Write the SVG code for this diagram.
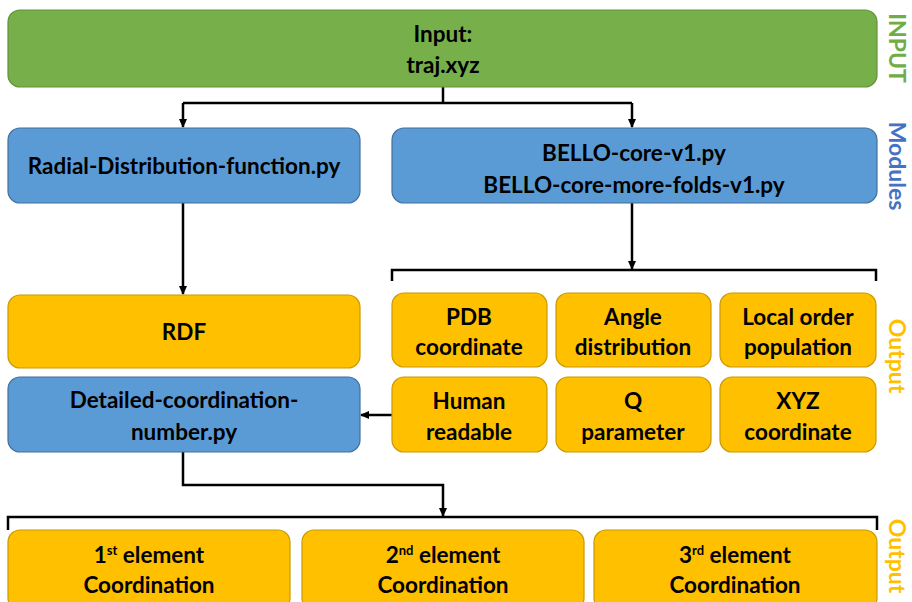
<svg xmlns="http://www.w3.org/2000/svg" width="912" height="602" viewBox="0 0 912 602">
<defs>
<style>
.g{fill:#77b04b;stroke:#5f9338;stroke-width:1.2}
.b{fill:#5b9bd5;stroke:#41719c;stroke-width:1.2}
.o{fill:#ffc000;stroke:#c99a00;stroke-width:1.2}
.t{font-family:Lato,"Liberation Sans",sans-serif;font-weight:bold;font-size:22.5px;fill:#000;text-anchor:middle}
.s{font-family:Lato,"Liberation Sans",sans-serif;font-weight:bold;font-size:23px;text-anchor:middle}
.c{fill:none;stroke:#000;stroke-width:2.5}
</style>
<marker id="a" markerWidth="10" markerHeight="10" refX="8" refY="5" orient="auto" markerUnits="userSpaceOnUse">
<path d="M0,1 L9,5 L0,9 Z" fill="#000"/>
</marker>
</defs>
<rect width="912" height="602" fill="#fff"/>
<g id="connectors">
<path class="c" d="M443,87 V103 M183,103 H632"/>
<path class="c" d="M183,103 V127" marker-end="url(#a)"/>
<path class="c" d="M632,103 V127" marker-end="url(#a)"/>
<path class="c" d="M183,203 V294" marker-end="url(#a)"/>
<path class="c" d="M632,203 V269" marker-end="url(#a)"/>
<path class="c" d="M392,281 V270 H876 V281"/>
<path class="c" d="M392,415 H361" marker-end="url(#a)"/>
<path class="c" d="M183,452 V485 H443 V516" marker-end="url(#a)"/>
<path class="c" d="M8,530 V517 H877 V530"/>
</g>
<g id="input"><rect class="g" x="8" y="10" width="869" height="77" rx="12"/>
<text class="t" x="443" y="42">Input:</text><text class="t" x="443" y="73">traj.xyz</text></g>
<g id="rdfpy"><rect class="b" x="8" y="128" width="352" height="75" rx="12"/>
<text class="t" x="184" y="174">Radial-Distribution-function.py</text></g>
<g id="bello"><rect class="b" x="392" y="128" width="485" height="75" rx="12"/>
<text class="t" x="634" y="161">BELLO-core-v1.py</text><text class="t" x="634" y="193">BELLO-core-more-folds-v1.py</text></g>
<g id="rdf"><rect class="o" x="8" y="295" width="352" height="73" rx="12"/>
<text class="t" x="184" y="340">RDF</text></g>
<g id="detailed"><rect class="b" x="8" y="377" width="352" height="75" rx="12"/>
<text class="t" x="184" y="408">Detailed-coordination-</text><text class="t" x="184" y="440">number.py</text></g>
<g id="pdb"><rect class="o" x="392" y="293" width="155" height="74" rx="12"/>
<text class="t" x="469" y="325">PDB</text><text class="t" x="469" y="355">coordinate</text></g>
<g id="angle"><rect class="o" x="556" y="293" width="155" height="74" rx="12"/>
<text class="t" x="633" y="325">Angle</text><text class="t" x="633" y="355">distribution</text></g>
<g id="local"><rect class="o" x="720" y="293" width="156" height="74" rx="12"/>
<text class="t" x="798" y="325">Local order</text><text class="t" x="798" y="355">population</text></g>
<g id="human"><rect class="o" x="392" y="377" width="155" height="75" rx="12"/>
<text class="t" x="469" y="409">Human</text><text class="t" x="469" y="440">readable</text></g>
<g id="q"><rect class="o" x="556" y="377" width="155" height="75" rx="12"/>
<text class="t" x="633" y="409">Q</text><text class="t" x="633" y="440">parameter</text></g>
<g id="xyz"><rect class="o" x="720" y="377" width="156" height="75" rx="12"/>
<text class="t" x="798" y="409">XYZ</text><text class="t" x="798" y="440">coordinate</text></g>
<g id="el1"><rect class="o" x="8" y="530" width="282" height="80" rx="12"/>
<text class="t" x="149" y="563">1<tspan font-size="13" dy="-8">st</tspan><tspan dy="8"> element</tspan></text><text class="t" x="149" y="593">Coordination</text></g>
<g id="el2"><rect class="o" x="302" y="530" width="282" height="80" rx="12"/>
<text class="t" x="443" y="563">2<tspan font-size="13" dy="-8">nd</tspan><tspan dy="8"> element</tspan></text><text class="t" x="443" y="593">Coordination</text></g>
<g id="el3"><rect class="o" x="594" y="530" width="283" height="80" rx="12"/>
<text class="t" x="735" y="563">3<tspan font-size="13" dy="-8">rd</tspan><tspan dy="8"> element</tspan></text><text class="t" x="735" y="593">Coordination</text></g>
<g id="labels">
<text class="s" fill="#70ad47" transform="translate(889,48) rotate(90)">INPUT</text>
<text class="s" fill="#4472c4" transform="translate(889,166) rotate(90)">Modules</text>
<text class="s" fill="#ffc000" transform="translate(889,356) rotate(90)">Output</text>
<text class="s" fill="#ffc000" transform="translate(889,556) rotate(90)">Output</text>
</g>
</svg>
